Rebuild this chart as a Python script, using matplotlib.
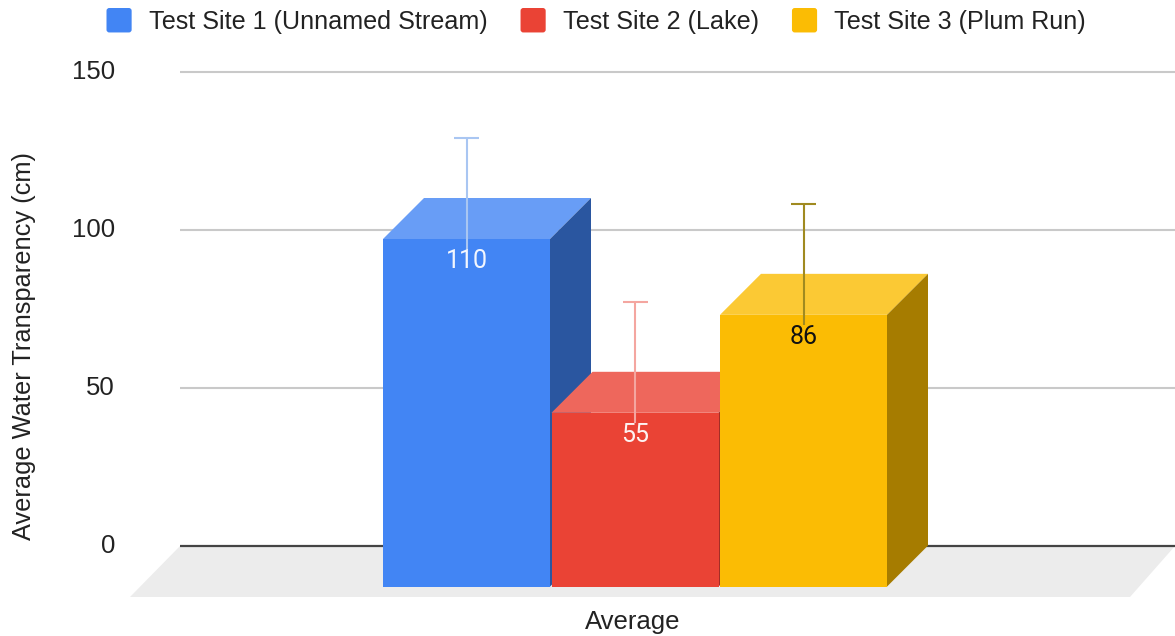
import matplotlib
matplotlib.use("Agg")
import matplotlib.pyplot as plt
from matplotlib.patches import Polygon, Patch, FancyBboxPatch
from matplotlib.legend_handler import HandlerPatch

# Data
sites = ["Test Site 1 (Unnamed Stream)", "Test Site 2 (Lake)", "Test Site 3 (Plum Run)"]
averages = [110, 55, 86]
err_up = [32, 35, 35]
category = "Average"
yticks = [0, 50, 100, 150]

# Styles
front = ["#4285F4", "#EA4335", "#FBBC04"]
top = ["#689DF6", "#EE675C", "#FBC934"]
side = ["#2A56A0", "#A32E25", "#A67C00"]
err_col = ["#A9C6F2", "#F4A6A0", "#A08A20"]
lab_col = ["#F2F6FE", "#FDF2F1", "#111111"]
text_col = "#222222"


class RoundedHandle(HandlerPatch):
    def create_artists(self, legend, orig_handle, xdescent, ydescent, width, height, fontsize, trans):
        p = FancyBboxPatch((-xdescent + 1.5, -ydescent + 1.5), width - 3, height - 3,
                           boxstyle="round,pad=1.5,rounding_size=2",
                           fc=orig_handle.get_facecolor(), ec="none", transform=trans)
        return [p]


W, H = 1175, 636
fig = plt.figure(figsize=(W / 100, H / 100), dpi=100, facecolor="white")
L, R, T, B = 180, 1175, 72, 546
ax = fig.add_axes([L / W, 1 - B / H, (R - L) / W, (B - T) / H])
ax.set_xlim(L, R)
ax.set_ylim(0, 150)
ax.axis("off")

upp = 150 / (B - T)          # data units per pixel
depth_x = 41
depth_y = 40.6 * upp         # depth of the 3D box in y-data units
rise = 41 * upp
lefts = [383, 551.5, 720]
width = 167

# floor
ax.add_patch(Polygon([(L, 0), (R, 0), (1130, -51 * upp), (130, -51 * upp)],
                     closed=True, fc="#ECECEC", ec="none", clip_on=False, zorder=1))
# gridlines
for v in yticks[1:]:
    ax.plot([L, R], [v, v], color="#C9C9C9", lw=1.5, zorder=2, clip_on=False, solid_capstyle="butt")
ax.plot([L, R], [0, 0], color="#444444", lw=1.6, zorder=2.5, clip_on=False, solid_capstyle="butt")

for i, (x0, v) in enumerate(zip(lefts, averages)):
    z = 3 + i
    y0 = -depth_y
    y1 = y0 + v
    x1 = x0 + width
    ax.bar(x0, v, width=width, bottom=y0, align="edge", color=front[i], lw=0,
           zorder=z + 0.2, clip_on=False)
    ax.add_patch(Polygon([(x0, y1), (x1, y1), (x1 + depth_x, y1 + rise), (x0 + depth_x, y1 + rise)],
                         closed=True, fc=top[i], ec="none", zorder=z, clip_on=False))
    ax.add_patch(Polygon([(x1, y0), (x1 + depth_x, y0 + rise), (x1 + depth_x, y1 + rise), (x1, y1)],
                         closed=True, fc=side[i], ec="none", zorder=z, clip_on=False))
    cx = x0 + width / 2
    lab_y = y1 - 22.5 * upp
    ax.plot([cx, cx], [lab_y + 12 * upp, y1 + err_up[i]], color=err_col[i], lw=1.5,
            zorder=z + 0.4, clip_on=False, solid_capstyle="butt")
    ax.plot([cx - 12.5, cx + 12.5], [y1 + err_up[i]] * 2, color=err_col[i], lw=1.5,
            zorder=z + 0.4, clip_on=False, solid_capstyle="butt")
    ax.text(cx, lab_y, str(v), ha="center", va="center", color=lab_col[i],
            fontsize=18, family="Roboto", zorder=z + 0.5, clip_on=False)

for v in yticks:
    ax.text(115, v, str(v), ha="right", va="center", fontsize=18.5, color=text_col,
            transform=ax.transData, clip_on=False, family="Liberation Sans")

fig.text(24 / W, 1 - 346.5 / H, "Average Water Transparency (cm)", rotation=90, ha="center", va="center",
         fontsize=18.3, color=text_col, family="Liberation Sans")
fig.text(633 / W, 1 - 622 / H, category, ha="center", va="center", fontsize=18.5, color=text_col,
         family="Liberation Sans")

handles = [Patch(fc=c, ec="none", label=s) for c, s in zip(front, sites)]
fig.legend(handles=handles, handler_map={Patch: RoundedHandle()}, loc="upper left",
           bbox_to_anchor=(106.5 / W, 1 - 8 / H), ncol=3, frameon=False,
           prop={"family": "Liberation Sans", "size": 18.1}, labelcolor=text_col,
           borderpad=0, borderaxespad=0, handlelength=1.0, handleheight=1.12, handletextpad=0.68,
           columnspacing=1.32)
fig.savefig("out.png", dpi=100, facecolor="white")
